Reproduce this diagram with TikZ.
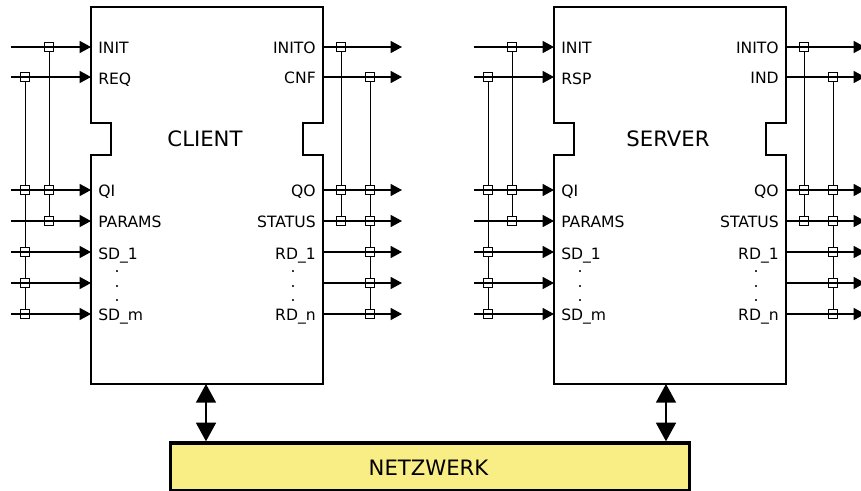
\documentclass[tikz,border=0pt]{standalone}
\usepackage{fontspec}
\setmainfont{DejaVu Sans}
\usetikzlibrary{arrows.meta}

\begin{document}
\begin{tikzpicture}[
    x=0.75pt, y=-0.75pt,
    blockline/.style={draw, line width=1.7pt},
    wire/.style={line width=1pt},
    pinin/.style={wire, -{Triangle[length=8.5pt, width=9pt]}},
    jct/.style={draw, line width=0.8pt, minimum size=7pt, inner sep=0pt},
    bus/.style={line width=0.7pt},
    lbl/.style={font=\fontsize{11.7}{13}\selectfont, inner sep=0pt},
    title/.style={font=\fontsize{15.9}{18}\selectfont, inner sep=0pt},
    netlink/.style={line width=1.2pt, {Triangle[length=14pt, width=15pt]}-{Triangle[length=14pt, width=15pt]}},
    netbox/.style={draw, line width=2.5pt, fill=netyellow, minimum width=389pt, minimum height=36pt, inner sep=0pt}
]
    \definecolor{netyellow}{HTML}{F9EE85}
    \useasboundingbox (0,0) rectangle (861,490);
    \clip (0,0) rectangle (861,490);

    \node[netbox] (net) at (430,467) {};
    \node[title] (nettext) at (428.5,468) {NETZWERK};

    \foreach \blk/\off/\name/\req/\cnf/\linkx in {c/0/CLIENT/REQ/CNF/206, s/463/SERVER/RSP/IND/203} {
      \begin{scope}[xshift=\off*0.75pt]
        % block outline with the two notches
        \draw[blockline] (91,7) -- (323,7) -- (323,123) -- (303,123) -- (303,155) -- (323,155)
            -- (323,384) -- (91,384) -- (91,155) -- (111,155) -- (111,123) -- (91,123) -- cycle;
        \node[title] (\blk name) at (205,139) {\name};
        \coordinate (\blk bot) at (\linkx,384);
        \draw[netlink] (\blk bot) -- (\blk bot |- net.north);

        % pins
        \foreach \row/\ypos in {1/47, 2/77, 3/190, 4/221, 5/252, 6/283, 7/314} {
            \coordinate (\blk inA\row) at (11,\ypos);
            \coordinate (\blk inB\row) at (91,\ypos);
            \coordinate (\blk outA\row) at (323,\ypos);
            \coordinate (\blk outB\row) at (402,\ypos);
            \draw[pinin] (\blk inA\row) -- (\blk inB\row);
            \draw[pinin] (\blk outA\row) -- (\blk outB\row);
        }

        % labels
        \foreach \row/\ybase/\txt in {1/53/INIT, 2/84/\req, 3/196/QI, 4/227/PARAMS, 5/259/SD\_1, 7/320/SD\_m}
            \node[lbl, anchor=base west] (\blk inl\row) at (98,\ybase) {\txt};
        \foreach \row/\ybase/\txt in {1/53/INITO, 2/83/\cnf, 3/196/QO, 4/227/STATUS, 5/259/RD\_1, 7/320/RD\_n}
            \node[lbl, anchor=base east] (\blk outl\row) at (316,\ybase) {\txt};
        \foreach \i/\ybase in {1/272, 2/287, 3/301} {
            \node[lbl, anchor=base] (\blk ind\i) at (117,\ybase) {.};
            \node[lbl, anchor=base] (\blk oud\i) at (293,\ybase) {.};
        }

        % junctions
        \foreach \col/\xpos/\rows in {a/49/{1,3,4}, b/25/{2,3,5,6,7}, c/341/{1,3,4}, d/370/{2,3,4,5,6,7}}
            \foreach \row in \rows
                \node[jct] (\blk\col\row) at (\xpos,0 |- \blk inA\row) {};
        \foreach \from/\to in {a1/a3, a3/a4, b2/b3, b3/b5, b5/b6, b6/b7, c1/c3, c3/c4, d2/d3, d3/d4, d4/d5, d5/d6, d6/d7}
            \draw[bus] (\blk\from) -- (\blk\to);
      \end{scope}
    }
\end{tikzpicture}
\end{document}
